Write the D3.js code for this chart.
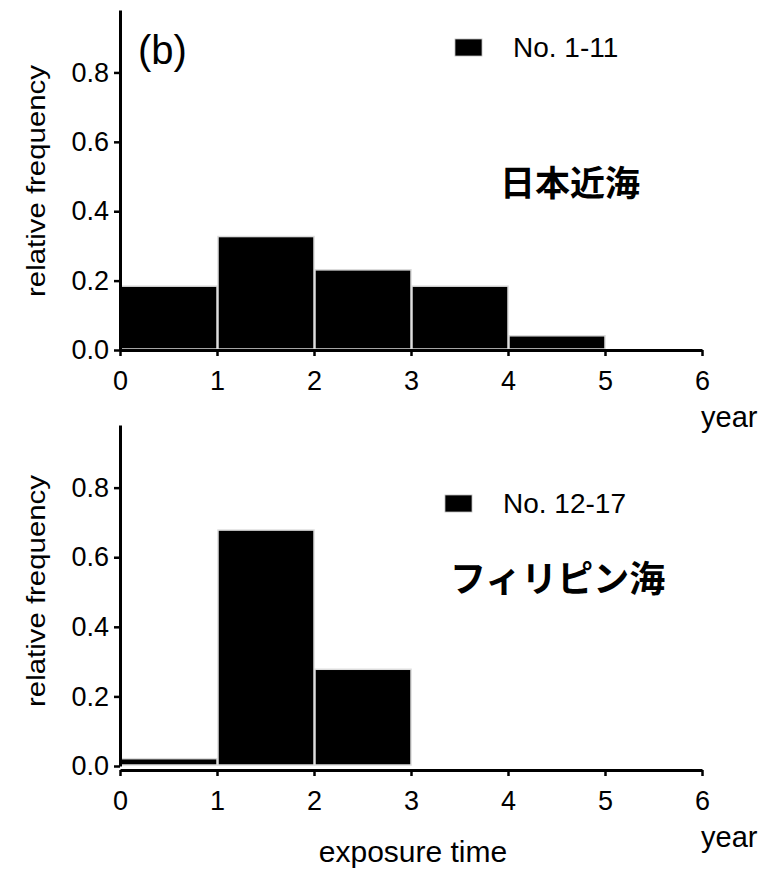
<!DOCTYPE html>
<html>
<head>
<meta charset="utf-8">
<script src="https://cdn.jsdelivr.net/npm/d3@7"></script>
<style>
  body { margin: 0; background: #fff; }
  text { font-family: "Liberation Sans", Arial, sans-serif; fill: #000; }
  .jp { font-family: "Noto Sans CJK JP", sans-serif; font-weight: 700; }
</style>
</head>
<body>
<svg id="chart" width="782" height="872"></svg>
<script>
// bins are 1 year wide, from 0 to 6 years
var binStarts = [0, 1, 2, 3, 4, 5];
var japanFreq = [0.184, 0.327, 0.231, 0.184, 0.041, 0];
var philippineFreq = [0.021, 0.678, 0.278, 0, 0, 0];
var yTicks = [0, 0.2, 0.4, 0.6, 0.8];
var xTicks = [0, 1, 2, 3, 4, 5, 6];
var legendNames = ["No. 1-11", "No. 12-17"];
var regionNames = ["日本近海", "フィリピン海"];

var svg = d3.select("#chart");

var x = d3.scaleLinear().domain([0, 6]).range([120, 702]);

// panel layouts (pixel placement only)
var panels = [
    {vals: japanFreq, y0: 350, y1: 10, xAxisY: 350, legX: 455, legY: 39, textX: 513,
     regX: 500, regY: 196, regSize: 35, labelY: 181, yearY: 427},
    {vals: philippineFreq, y0: 766, y1: 425, xAxisY: 770, legX: 445, legY: 495, textX: 503,
     regX: 450, regY: 592, regSize: 36, labelY: 591, yearY: 847}
];

panels.forEach(function(p, i){
    var y = d3.scaleLinear().domain([0, 0.98]).range([p.y0, p.y1]);
    var g = svg.append("g");

    // bars
    g.selectAll("rect")
        .data(binStarts.filter(function(d, j){ return p.vals[j] > 0; }))
        .enter().append("rect")
        .attr("x", function(d){ return x(d) + 1; })
        .attr("width", function(d){ return x(d + 1) - x(d) - 1; })
        .attr("y", function(d){ return y(p.vals[binStarts.indexOf(d)]); })
        .attr("height", function(d){ return y(0) - y(p.vals[binStarts.indexOf(d)]) - 1; })
        .attr("fill", "#000")
        .attr("stroke", "#dcdcdc")
        .attr("stroke-width", 1.5);

    // y axis
    var ya = g.append("g")
        .attr("transform", "translate(120,0)")
        .call(d3.axisLeft(y).tickValues(yTicks).tickFormat(d3.format(".1f"))
            .tickSize(6).tickSizeOuter(0).tickPadding(5));
    ya.select(".domain").attr("stroke-width", 3);
    ya.selectAll(".tick line").attr("stroke-width", 2.5);
    ya.selectAll("text").style("font-size", "27px").attr("font-family", null);

    // x axis
    var xa = g.append("g")
        .attr("transform", "translate(0," + p.xAxisY + ")")
        .call(d3.axisBottom(x).tickValues(xTicks).tickFormat(d3.format("d"))
            .tickSize(6).tickSizeOuter(0).tickPadding(15));
    xa.select(".domain").attr("stroke-width", 3);
    xa.selectAll(".tick line").attr("stroke-width", 2.5);
    xa.selectAll("text").style("font-size", "27px").attr("font-family", null);

    // y label
    g.append("text")
        .attr("transform", "translate(45," + p.labelY + ") rotate(-90)")
        .attr("text-anchor", "middle")
        .attr("textLength", 232)
        .attr("lengthAdjust", "spacingAndGlyphs")
        .style("font-size", "25px")
        .text("relative frequency");

    // unit
    g.append("text")
        .attr("x", 701)
        .attr("y", p.yearY)
        .style("font-size", "29px")
        .text("year");

    // legend
    g.append("rect")
        .attr("x", p.legX)
        .attr("y", p.legY)
        .attr("width", 27)
        .attr("height", 17)
        .attr("fill", "#000")
        .attr("stroke", "#bbb")
        .attr("stroke-width", 0.8);
    g.append("text")
        .attr("x", p.textX)
        .attr("y", p.legY + 18)
        .style("font-size", "28px")
        .text(legendNames[i]);

    // region name
    g.append("text")
        .attr("class", "jp")
        .attr("x", p.regX)
        .attr("y", p.regY)
        .style("font-size", p.regSize + "px")
        .text(regionNames[i]);
});

svg.append("text")
    .attr("x", 138)
    .attr("y", 64)
    .style("font-size", "40px")
    .text("(b)");

svg.append("text")
    .attr("x", 413)
    .attr("y", 862)
    .attr("text-anchor", "middle")
    .style("font-size", "30px")
    .text("exposure time");
</script>
</body>
</html>
